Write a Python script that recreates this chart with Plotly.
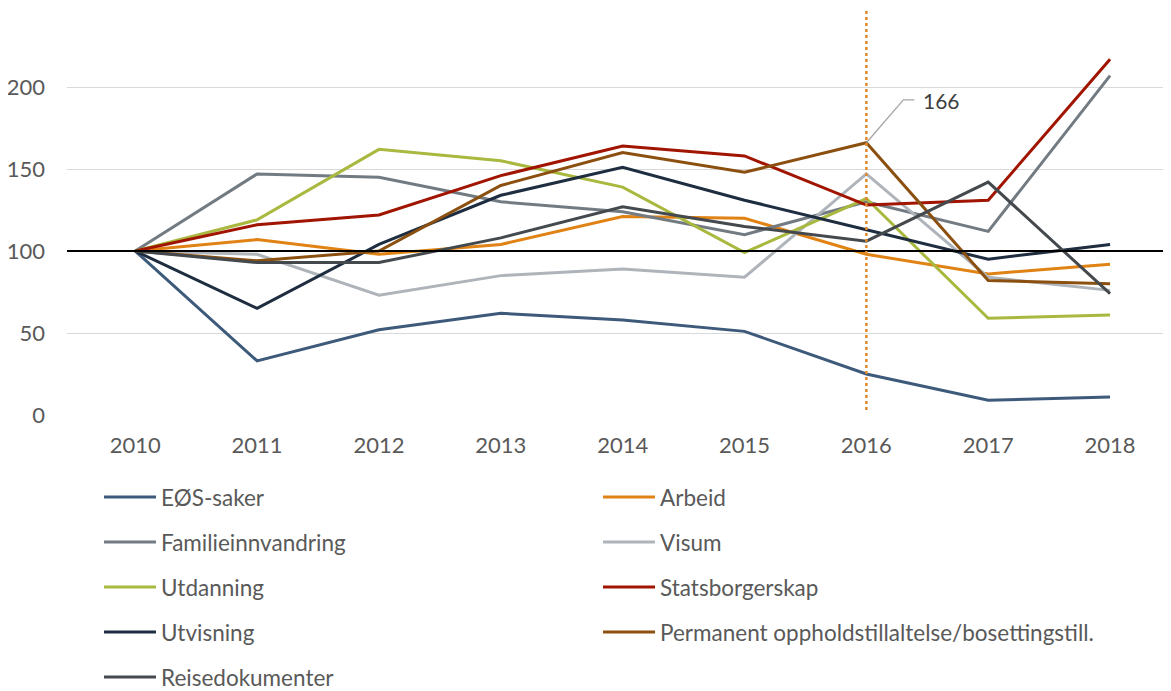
import plotly.graph_objects as go

years = ["2010", "2011", "2012", "2013", "2014", "2015", "2016", "2017", "2018"]

eos = [100, 33, 52, 62, 58, 51, 25, 9, 11]
arbeid = [100, 107, 98, 104, 121, 120, 98, 86, 92]
familie = [100, 147, 145, 130, 124, 110, 130, 112, 207]
visum = [100, 98, 73, 85, 89, 84, 147, 84, 76]
utdanning = [100, 119, 162, 155, 139, 99, 132, 59, 61]
statsborger = [100, 116, 122, 146, 164, 158, 128, 131, 217]
utvisning = [100, 65, 104, 134, 151, 131, 113, 95, 104]
permanent = [100, 94, 100, 140, 160, 148, 166, 82, 80]
reisedok = [100, 93, 93, 108, 127, 115, 106, 142, 74]

y_ticks = [0, 50, 100, 150, 200]

series = [
    ("EØS-saker", eos, "#3E5A7A", "legend"),
    ("Arbeid", arbeid, "#E08214", "legend2"),
    ("Familieinnvandring", familie, "#737B82", "legend"),
    ("Visum", visum, "#AEB4B9", "legend2"),
    ("Utdanning", utdanning, "#A9B83E", "legend"),
    ("Statsborgerskap", statsborger, "#A01400", "legend2"),
    ("Utvisning", utvisning, "#1E2D40", "legend"),
    ("Permanent oppholdstillaltelse/bosettingstill.", permanent, "#8B5010", "legend2"),
    ("Reisedokumenter", reisedok, "#44494E", "legend"),
]

font_family = "Lato, 'Open Sans', sans-serif"
text_color = "#595959"

fig = go.Figure()
for i, (name, vals, color, leg) in enumerate(series):
    fig.add_trace(go.Scatter(
        x=years, y=vals, name=name, mode="lines",
        line=dict(color=color, width=3),
        legend=leg, legendgroup=f"g{i}",
    ))

highlight_idx = years.index("2016")
highlight_val = permanent[highlight_idx]

# Baseline at 100
fig.add_shape(type="line", xref="paper", x0=0, x1=1, yref="y", y0=100, y1=100,
              line=dict(color="black", width=2.2), layer="above")
# Vertical dotted marker at 2016
fig.add_shape(type="line", xref="x", x0=highlight_idx, x1=highlight_idx, yref="y", y0=3, y1=248,
              line=dict(color="#E0892C", width=2.5, dash="dot"), layer="above")
# Leader line for label
fig.add_shape(type="path", xref="x", xsizemode="pixel", xanchor=highlight_idx,
              yref="y", ysizemode="pixel", yanchor=highlight_val,
              path="M0,0 L37,43 L48,43",
              line=dict(color="#A6A6A6", width=1.3), layer="above")
fig.add_annotation(x=highlight_idx, y=highlight_val, xref="x", yref="y",
                   text=str(highlight_val), showarrow=False,
                   xanchor="left", yanchor="middle", xshift=55, yshift=42,
                   font=dict(family=font_family, size=21, color="#404040"))

leg_font = dict(family=font_family, size=22.5, color=text_color)

fig.update_layout(
    width=1163, height=683,
    margin=dict(l=59, r=0, t=0, b=276, autoexpand=False),
    paper_bgcolor="white", plot_bgcolor="white",
    font=dict(family=font_family, size=22, color=text_color),
    showlegend=True,
    legend=dict(x=0.029, y=-0.1495, xanchor="left", yanchor="top",
                orientation="v", tracegroupgap=12.75, itemwidth=52,
                bgcolor="rgba(0,0,0,0)", font=leg_font),
    legend2=dict(x=0.481, y=-0.1495, xanchor="left", yanchor="top",
                 orientation="v", tracegroupgap=12.75, itemwidth=52,
                 bgcolor="rgba(0,0,0,0)", font=leg_font),
    xaxis=dict(type="category", range=[-0.56, 8.5], showgrid=False, zeroline=False,
               showline=False, ticks="", ticklabelstandoff=15,
               tickfont=dict(family=font_family, size=22, color=text_color)),
    yaxis=dict(range=[0, 248.2], tickvals=y_ticks, showgrid=True,
               gridcolor="#D9D9D9", gridwidth=1, zeroline=False, showline=False,
               ticks="", ticklabelstandoff=21,
               tickfont=dict(family=font_family, size=22, color=text_color)),
)

fig.write_html("out.html")
